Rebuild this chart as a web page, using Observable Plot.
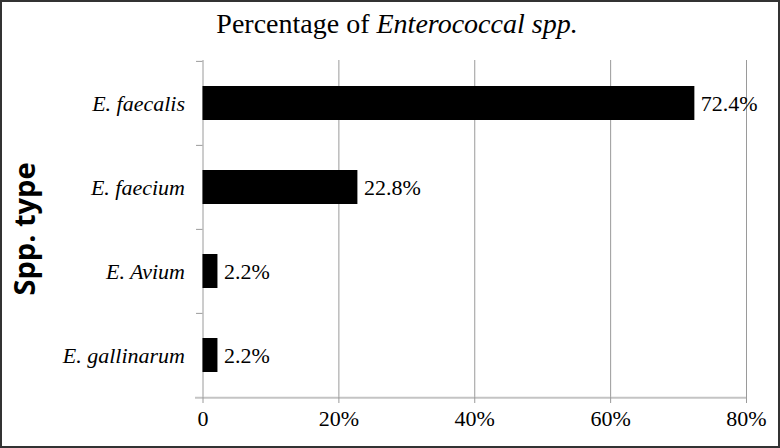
<!DOCTYPE html>
<html>
<head>
<meta charset="utf-8">
<script src="https://cdn.jsdelivr.net/npm/d3@7"></script>
<script src="https://cdn.jsdelivr.net/npm/@observablehq/plot@0.6"></script>
<style>
  html, body { margin: 0; padding: 0; background: #fff; }
  #wrap { position: relative; width: 780px; height: 448px; overflow: hidden; background: #fff; }
  #title { height: 48px; box-sizing: border-box; padding-top: 10px; text-align: center; font-family: 'Liberation Serif', serif; font-size: 28px; line-height: 1; color: #000; padding-left: 14px; }
  #title i { font-style: italic; }
  #border { position: absolute; left: 0; top: 0; width: 780px; height: 448px; box-sizing: border-box; border: 2px solid #333; pointer-events: none; }
  svg { display: block; }
</style>
</head>
<body>
<div id="wrap">
  <div id="title">Percentage of <i>Enterococcal spp.</i></div>
  <div id="chart"></div>
  <div id="border"></div>
</div>
<script>
const species = ["E. faecalis", "E. faecium", "E. Avium", "E. gallinarum"];
const percents = [72.4, 22.8, 2.2, 2.2];
const xTicks = [0, 20, 40, 60, 80];
const xTickLabels = ["0", "20%", "40%", "60%", "80%"];
const yAxisLabel = "Spp. type";

const data = species.map((s, i) => ({species: s, pct: percents[i]}));

const W = 780, H = 400, mT = 12, mB = 51, mL = 202.5, mR = 34;
const step = (H - mT - mB) / species.length;
const serif = "Liberation Serif, Times New Roman, serif";

const chart = Plot.plot({
  width: W, height: H,
  marginLeft: mL, marginRight: mR, marginTop: mT, marginBottom: mB,
  style: {fontFamily: serif, background: "transparent", overflow: "visible", color: "#000"},
  x: {domain: [0, 80], ticks: xTicks},
  y: {domain: species, paddingInner: 0.6, paddingOuter: 0.3},
  marks: [
    Plot.ruleX(xTicks, {stroke: "#9a9a9a", strokeWidth: 1}),
    Plot.ruleY(species, {y: d => d, dy: -step / 2, x1: -0.95, x2: 0, stroke: "#9a9a9a"}),
    Plot.ruleY([species[species.length - 1]], {y: d => d, dy: step / 2, x1: -1.1, x2: 80, stroke: "#c4c4c4", strokeWidth: 2}),
    Plot.barX(data, {x: "pct", y: "species", fill: "#000"}),
    Plot.text(data, {x: "pct", y: "species", text: d => d.pct.toFixed(1) + "%", dx: 6, textAnchor: "start", fontSize: 22, fontFamily: serif, fill: "#000"}),
    Plot.axisX({
      ticks: xTicks, anchor: "bottom", tickSize: 6, tickPadding: 7,
      stroke: "#9a9a9a", fill: "#000", fontSize: 22, fontFamily: serif, label: null,
      tickFormat: d => xTickLabels[xTicks.indexOf(d)]
    }),
    Plot.axisY({anchor: "left", tickSize: 0, tickPadding: 18, fontSize: 22, fontFamily: serif, fontStyle: "italic", fill: "#000", label: null}),
    Plot.text([yAxisLabel], {
      text: d => d, frameAnchor: "left", textAnchor: "middle", dx: -177, rotate: -90,
      fontFamily: "Open Sans, sans-serif", fontWeight: "bold", fontSize: 29, fill: "#000"
    })
  ]
});
document.getElementById("chart").appendChild(chart);
</script>
</body>
</html>
